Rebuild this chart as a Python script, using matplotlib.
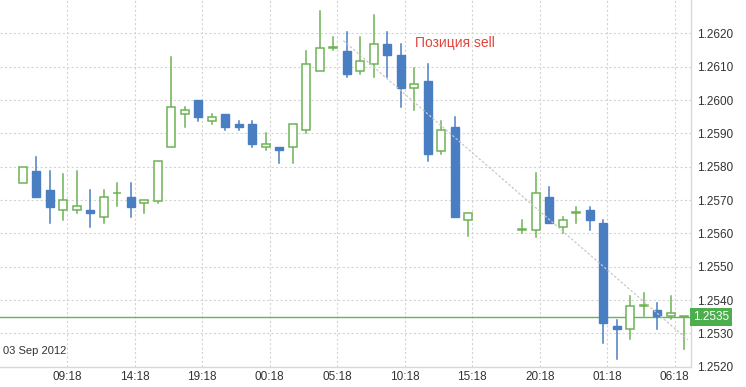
## hourly candlestick chart with sell position trend line

import numpy as np
import matplotlib
matplotlib.use('Agg')
import matplotlib.pyplot as plt
from matplotlib.patches import Rectangle
import matplotlib.transforms as mtransforms

plt.rcParams['font.family'] = ['Liberation Sans', 'DejaVu Sans']

# hours since 03 Sep 2012 06:00 (16:00-18:00 on 04 Sep are missing)
hours = [0, 1, 2, 3, 4, 5, 6, 7, 8, 9, 10, 11, 12, 13, 14, 15, 16, 17, 18, 19,
         20, 21, 22, 23, 24, 25, 26, 27, 28, 29, 30, 31, 32, 33,
         37, 38, 39, 40, 41, 42, 43, 44, 45, 46, 47, 48, 49]
opens = [1.2575, 1.25788, 1.2573, 1.25669, 1.25669, 1.25669, 1.25648, 1.2572, 1.2571, 1.2569,
         1.25696, 1.25859, 1.25957, 1.2600, 1.25938, 1.25957, 1.25929, 1.25929, 1.25858, 1.25859,
         1.25858, 1.25909, 1.26086, 1.26156, 1.26148, 1.26086, 1.26108, 1.26168, 1.26136, 1.26036,
         1.26058, 1.25848, 1.25918, 1.2564,
         1.2561, 1.2561, 1.2571, 1.2562, 1.25662, 1.25669, 1.25632, 1.25322, 1.25312, 1.25382,
         1.2537, 1.25352, 1.2535]
highs = [1.2580, 1.2583, 1.25788, 1.25778, 1.25788, 1.2573, 1.2573, 1.2575, 1.2575, 1.2570,
         1.25818, 1.26128, 1.25978, 1.2600, 1.25957, 1.25957, 1.25938, 1.25938, 1.2590, 1.25859,
         1.25929, 1.26147, 1.26267, 1.26188, 1.26205, 1.26188, 1.26256, 1.26205, 1.26168, 1.26097,
         1.26107, 1.25938, 1.2595, 1.2566,
         1.2564, 1.2578, 1.2574, 1.25648, 1.2568, 1.2568, 1.2564, 1.2534, 1.25412, 1.2542,
         1.2539, 1.25412, 1.2535]
lows = [1.2575, 1.2571, 1.25632, 1.2564, 1.2566, 1.2562, 1.25632, 1.25682, 1.25648, 1.2566,
        1.2569, 1.25859, 1.25918, 1.25938, 1.25929, 1.2591, 1.2591, 1.2586, 1.2585, 1.2581,
        1.2581, 1.259, 1.26086, 1.2615, 1.2607, 1.26078, 1.26068, 1.26068, 1.25978, 1.2597,
        1.25818, 1.25838, 1.25648, 1.25592,
        1.2560, 1.2559, 1.25632, 1.2560, 1.25632, 1.2561, 1.25272, 1.25222, 1.25282, 1.25352,
        1.25312, 1.25342, 1.25252]
closes = [1.2580, 1.2571, 1.2568, 1.2570, 1.25681, 1.2566, 1.2571, 1.2572, 1.2568, 1.2570,
          1.25818, 1.25979, 1.2597, 1.25949, 1.25949, 1.25918, 1.25918, 1.25867, 1.25867, 1.25849,
          1.25929, 1.26107, 1.26156, 1.26158, 1.26078, 1.26118, 1.26168, 1.26136, 1.26036, 1.26048,
          1.25838, 1.25909, 1.25648, 1.2566,
          1.2561, 1.2572, 1.25632, 1.2564, 1.25662, 1.2564, 1.25332, 1.25312, 1.25382, 1.25382,
          1.25352, 1.25362, 1.2535]

last_price = 1.2535
trend_x = [23.75, 49.28]
trend_y = [1.26178, 1.2528]

tick_hours = [3.3, 8.3, 13.3, 18.3, 23.3, 28.3, 33.3, 38.3, 43.3, 48.3]
tick_labels = ['09:18', '14:18', '19:18', '00:18', '05:18', '10:18',
               '15:18', '20:18', '01:18', '06:18']
price_ticks = [1.2520, 1.2530, 1.2540, 1.2550, 1.2560, 1.2570, 1.2580,
               1.2590, 1.2600, 1.2610, 1.2620]

bull_col = '#6db356'
bear_col = '#4a7ec2'
grid_col = '#d4d4d4'
text_col = '#333333'

fig = plt.figure(figsize=(7.46, 3.87), dpi=100)
ax = fig.add_axes([0.0, 20.3/387, 691/746, 366.7/387])

# grid
ax.set_xticks(tick_hours)
ax.set_xticklabels(tick_labels)
ax.set_yticks(price_ticks)
ax.set_yticklabels(['%.4f' % p for p in price_ticks])
ax.grid(True, color=grid_col, linestyle=(0, (2, 2)), linewidth=0.8)
ax.set_axisbelow(True)

# candles
w = 0.6
for t, o, h, l, c in zip(hours, opens, highs, lows, closes):
    up = c >= o
    col = bull_col if up else bear_col
    lo, hi = min(o, c), max(o, c)
    ax.plot([t, t], [hi, h], color=col, linewidth=1.1, zorder=3)
    ax.plot([t, t], [l, lo], color=col, linewidth=1.1, zorder=3)
    body = max(hi - lo, 0.00002)
    if up:
        ax.add_patch(Rectangle((t - w/2, lo), w, body, facecolor='white',
                               edgecolor=col, linewidth=1.1, zorder=4))
    else:
        ax.add_patch(Rectangle((t - w/2, lo), w, body, facecolor=col,
                               edgecolor=col, linewidth=1.0, zorder=4))

# last price line and label
ax.axhline(last_price, color='#5fb85a', linewidth=1.0, zorder=2)
trans = mtransforms.blended_transform_factory(ax.transAxes, ax.transData)
ax.text(1.003, last_price, '%.4f' % last_price, transform=trans, color='white',
        fontsize=8.5, va='center', ha='left',
        bbox=dict(boxstyle='square,pad=0.25', facecolor='#4cae4c', edgecolor='none'),
        zorder=6, clip_on=False)

# trend line
ax.plot(trend_x, trend_y, color='#c8c8c8', linestyle=(0, (2, 1.5)), linewidth=0.9, zorder=5)
ax.text(32.0, 1.26171, 'Позиция sell', color='#e0443c', fontsize=10,
        ha='center', va='center', zorder=6)

ax.text(0.004, 0.03, '03 Sep 2012', transform=ax.transAxes, color=text_col,
        fontsize=8, ha='left', va='bottom')

ax.set_xlim(-1.68, 49.5)
ax.set_ylim(1.2520, 1.2630)

ax.yaxis.tick_right()
ax.tick_params(axis='y', length=0, pad=4.5, labelsize=8.5, labelcolor=text_col)
ax.tick_params(axis='x', length=0, pad=3, labelsize=8.5, labelcolor=text_col)
for s in ['top', 'left']:
    ax.spines[s].set_visible(False)
for s in ['right', 'bottom']:
    ax.spines[s].set_color('#d8d8d8')
    ax.spines[s].set_linewidth(1.0)

plt.savefig('out.png', dpi=100)
